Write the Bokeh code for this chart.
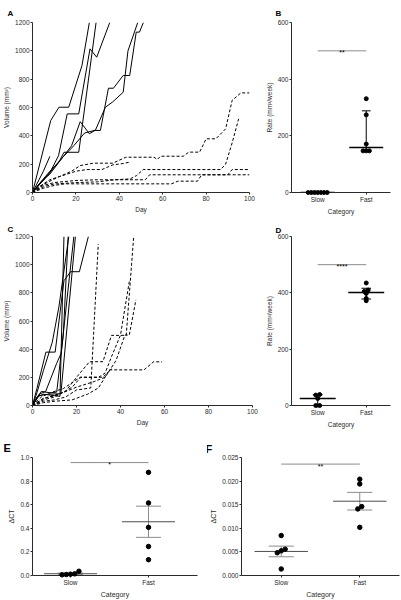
import numpy as np
from bokeh.plotting import figure
from bokeh.layouts import column, row
from bokeh.models import Range1d, FixedTicker, Label
from bokeh.embed import file_html
from bokeh.resources import INLINE

FONT = "Liberation Sans"
INK = "#2a2a2a"
GREY = "#8c8c8c"
DARKGREY = "#4d4d4d"

# ---------------- data ----------------
categories = ["Slow", "Fast"]

# Panel A: tumour volume curves (fast = solid, slow = dashed)
a_fast_days = [
    [0, 8.4, 12.2, 16.7, 22.8, 26.2],
    [0, 4, 8, 12, 16, 21.3, 26.5, 29.6, 35.6],
    [0, 3, 8, 12, 14.5, 21.3, 29.3],
    [0, 3, 8, 13, 18, 22, 26.2, 28.8, 31.3, 35, 37.3, 41.8, 44.8, 47.8, 49.3, 51.1],
    [0, 4, 9, 14, 19, 24, 29, 33.6, 37, 41.8, 44, 48.5],
    [0, 2, 5, 8],
]
a_fast_vols = [
    [0, 508, 602, 602, 896, 1200],
    [0, 70, 140, 260, 555, 555, 1014, 955, 1200],
    [0, 60, 130, 210, 284, 284, 1200],
    [0, 60, 150, 230, 330, 500, 415, 438, 438, 736, 736, 826, 826, 1132, 1132, 1200],
    [0, 70, 160, 250, 330, 420, 440, 602, 640, 708, 1000, 1200],
    [0, 60, 150, 255],
]
a_slow_days = [
    [0, 3, 8, 12, 18, 22, 28, 37, 43, 56, 57.5, 59, 69.5, 72, 77, 80, 84.5, 89, 92, 96, 100],
    [0, 4, 8, 14, 20, 25, 28, 32, 37, 42, 45],
    [0, 5, 10, 20, 30, 38, 45, 48, 51, 86.7, 89, 92, 95],
    [0, 5, 10, 20, 30, 40, 52, 54, 100],
    [0, 5, 10, 15, 64, 67, 76, 78, 90, 92, 100],
]
a_slow_vols = [
    [0, 40, 80, 110, 150, 190, 207, 207, 249, 249, 233, 256, 256, 285, 285, 379, 379, 449, 650, 703, 703],
    [0, 50, 90, 120, 150, 162, 162, 162, 195, 205, 215],
    [0, 40, 60, 70, 75, 90, 96, 120, 162, 162, 200, 350, 520],
    [0, 50, 70, 85, 90, 90, 90, 125, 125],
    [0, 30, 50, 61, 61, 80, 80, 125, 125, 162, 162],
]

# Panel C
c_fast_days = [
    [0, 2, 6.1, 10.3, 14.3, 17.3, 21.3, 25.4],
    [0, 2, 5, 9, 12, 16.5],
    [0, 3, 6, 11, 13, 18.8],
    [0, 2, 5, 10, 12.5, 14.3],
    [0, 3, 7, 12.9, 19.5],
    [0, 4, 8, 11, 14, 16.2],
]
c_fast_vols = [
    [0, 120, 379, 379, 886, 950, 950, 1200],
    [0, 90, 250, 450, 700, 1200],
    [0, 80, 100, 300, 370, 1200],
    [0, 60, 80, 70, 65, 1200],
    [0, 70, 80, 84, 1200],
    [0, 100, 90, 95, 500, 1200],
]
c_slow_days = [
    [0, 5, 10, 15, 20, 26.5, 29.9],
    [0, 5, 10, 15, 20, 25.9, 32, 35.9, 42.6, 46],
    [0, 5, 10, 18, 22, 30, 33, 36, 40, 44],
    [0, 5, 12, 20, 28, 33, 38, 42, 44, 47],
    [0, 5, 10, 18, 25, 30, 35, 50.7, 55, 58.9],
    [0, 4, 8, 14, 21.7, 32, 36],
]
c_slow_vols = [
    [0, 30, 40, 60, 110, 125, 1146],
    [0, 50, 70, 100, 200, 311, 311, 498, 498, 1200],
    [0, 40, 60, 130, 200, 200, 230, 350, 500, 880],
    [0, 50, 80, 130, 170, 200, 320, 500, 500, 750],
    [0, 20, 30, 40, 80, 125, 253, 253, 310, 310],
    [0, 60, 90, 120, 201, 201, 260],
]

# Panel B / D: growth rate (mm3/week)
b_slow = [0, 0, 0, 0, 0, 0, 0]
b_fast = [147, 147, 147, 171, 274, 331]
d_slow = [0, 0, 25, 37, 39]
d_fast = [372, 380, 398, 405, 410, 435]

# Panel E / F: delta CT
e_slow = [0.036, 0.008, 0.006, 0.011, 0.014]
e_fast = [0.874, 0.615, 0.408, 0.246, 0.134]
f_slow = [0.00847, 0.00523, 0.00558, 0.00482, 0.00138]
f_fast = [0.0204, 0.0194, 0.0146, 0.0141, 0.0102]

sig_b, sig_d, sig_e, sig_f = "**", "****", "*", "**"


# ---------------- helpers ----------------
def style_axes(p, fs, lfs):
    p.grid.visible = False
    p.outline_line_color = None
    p.border_fill_color = "white"
    for ax in p.axis:
        ax.axis_line_color = INK
        ax.axis_line_width = 1
        ax.major_tick_line_color = INK
        ax.minor_tick_line_color = None
        ax.major_tick_out = 2
        ax.major_tick_in = 0
        ax.major_label_standoff = 1
        ax.axis_label_standoff = 2
        ax.major_label_text_font = FONT
        ax.major_label_text_font_size = fs
        ax.major_label_text_color = INK
        ax.axis_label_text_font = FONT
        ax.axis_label_text_font_size = lfs
        ax.axis_label_text_font_style = "normal"
        ax.axis_label_text_color = INK


def make_fig(w, h, xr, yr, bl, br, bt, bb):
    return figure(width=w, height=h, x_range=Range1d(*xr), y_range=Range1d(*yr),
                  output_backend="svg", toolbar_location=None,
                  min_border_left=bl, min_border_right=br,
                  min_border_top=bt, min_border_bottom=bb)


def letter(p, txt, offset, standoff, size):
    p.title.text = txt
    p.title.align = "left"
    p.title.offset = offset
    p.title.standoff = standoff
    p.title.text_font = FONT
    p.title.text_font_size = size
    p.title.text_font_style = "bold"
    p.title.text_color = "black"


def swarm(vals, tol, step):
    vals = np.asarray(vals, float)
    order = np.argsort(vals, kind="stable")
    offs = np.zeros(len(vals))
    groups, cur = [], [order[0]]
    for i in order[1:]:
        if vals[i] - vals[cur[-1]] <= tol:
            cur.append(i)
        else:
            groups.append(cur)
            cur = [i]
    groups.append(cur)
    for g in groups:
        n = len(g)
        for k, i in enumerate(g):
            offs[i] = (k - (n - 1) / 2) * step
    return offs


def curves_panel(w, h, borders, fdays, fvols, sdays, svols):
    p = make_fig(w, h, (0, 100), (0, 1200), *borders)
    for d, v in zip(sdays, svols):
        p.line(d, v, line_color="black", line_width=1, line_dash="3 2")
    for d, v in zip(fdays, fvols):
        p.line(d, v, line_color="black", line_width=1)
    p.xaxis.ticker = FixedTicker(ticks=[0, 20, 40, 60, 80, 100])
    p.yaxis.ticker = FixedTicker(ticks=[0, 200, 400, 600, 800, 1000, 1200])
    p.xaxis.axis_label = "Day"
    p.yaxis.axis_label = "Volume (mm\u00b3)"
    style_axes(p, "6.5px", "6.5px")
    return p


def dot_panel(w, h, borders, xr, yr, yticks, ylabel, groups, stat, sig, sig_y,
              tol, step, ccol, ecol, mw, cw, lw, fs, lfs, msize, fmt=None):
    p = make_fig(w, h, xr, yr, *borders)
    for idx, vals in enumerate(groups):
        arr = np.asarray(vals, float)
        if stat == "median":
            c = np.median(arr)
            lo = np.percentile(arr, 25, method="weibull")
            hi = np.percentile(arr, 75, method="weibull")
        else:
            c = arr.mean()
            sem = arr.std(ddof=1) / np.sqrt(len(arr))
            lo, hi = c - sem, c + sem
        p.segment(x0=[idx], x1=[idx], y0=[lo], y1=[hi], line_color=ecol, line_width=1)
        p.segment(x0=[idx - cw, idx - cw], x1=[idx + cw, idx + cw], y0=[lo, hi], y1=[lo, hi],
                  line_color=ecol, line_width=1)
        p.segment(x0=[idx - mw], x1=[idx + mw], y0=[c], y1=[c], line_color=ccol, line_width=lw)
        offs = swarm(vals, tol, step)
        r = p.scatter(x=idx + offs, y=arr, size=msize, marker="circle",
                      fill_color="black", line_color="black")
        r.level = "overlay"
    p.segment(x0=[0], x1=[1], y0=[sig_y], y1=[sig_y], line_color=GREY, line_width=1)
    p.add_layout(Label(x=0.5, y=sig_y, y_offset=-2, text=sig, text_font=FONT,
                       text_font_size="7px", text_align="center", text_color="black",
                       text_baseline="alphabetic"))
    p.xaxis.ticker = FixedTicker(ticks=[0, 1])
    p.xaxis.major_label_overrides = {0: categories[0], 1: categories[1]}
    p.yaxis.ticker = FixedTicker(ticks=yticks)
    if fmt is not None:
        p.yaxis.major_label_overrides = {t: fmt.format(t) for t in yticks}
    p.xaxis.axis_label = "Category"
    p.yaxis.axis_label = ylabel
    style_axes(p, fs, lfs)
    return p


# ---------------- panels ----------------
pA = curves_panel(262, 220, (28, 13, 22, 28), a_fast_days, a_fast_vols, a_slow_days, a_slow_vols)
letter(pA, "A", -25, 9, "8px")

pB = dot_panel(139, 220, (26, 11, 19, 28), (-0.54, 1.5), (0, 600), [0, 200, 400, 600],
               "Rate (mm\u00b3/week)", [b_slow, b_fast], "median", sig_b, 500,
               6, 0.065, "black", "black", 0.35, 0.09, 1.5, "6.5px", "6.5px", 4)
letter(pB, "B", -16, 9, "8px")

pC = curves_panel(262, 210, (28, 10, 15, 24), c_fast_days, c_fast_vols, c_slow_days, c_slow_vols)
letter(pC, "C", -25, 5, "8px")

pD = dot_panel(139, 210, (26, 11, 13, 24), (-0.54, 1.5), (0, 600), [0, 200, 400, 600],
               "Rate (mm\u00b3/week)", [d_slow, d_fast], "median", sig_d, 500,
               6, 0.08, "black", "black", 0.37, 0.1, 1.5, "6.5px", "6.5px", 4)
letter(pD, "D", -16, 3, "8px")

pE = dot_panel(207, 170, (32, 10, 27, 24), (-0.487, 1.628), (0, 1.0),
               [0.0, 0.2, 0.4, 0.6, 0.8, 1.0], "\u0394CT", [e_slow, e_fast], "mean",
               sig_e, 0.957, 0.03, 0.054, DARKGREY, GREY, 0.34, 0.16, 1, "6.5px", "7px", 4.5,
               fmt="{:.1f}")
letter(pE, "E", -29, 8, "11px")

pF = dot_panel(194, 170, (33, 2, 25, 24), (-0.506, 1.506), (0, 0.025),
               [0.0, 0.005, 0.010, 0.015, 0.020, 0.025], "\u0394CT", [f_slow, f_fast], "mean",
               sig_f, 0.0236, 0.0007, 0.05, DARKGREY, GREY, 0.34, 0.16, 1, "6.5px", "7px", 4.5,
               fmt="{:.3f}")
letter(pF, "F", -36, 6, "11px")

layout = column(row(pA, pB), row(pC, pD), row(pE, pF))

open("out.html", "w").write(file_html(layout, INLINE))
